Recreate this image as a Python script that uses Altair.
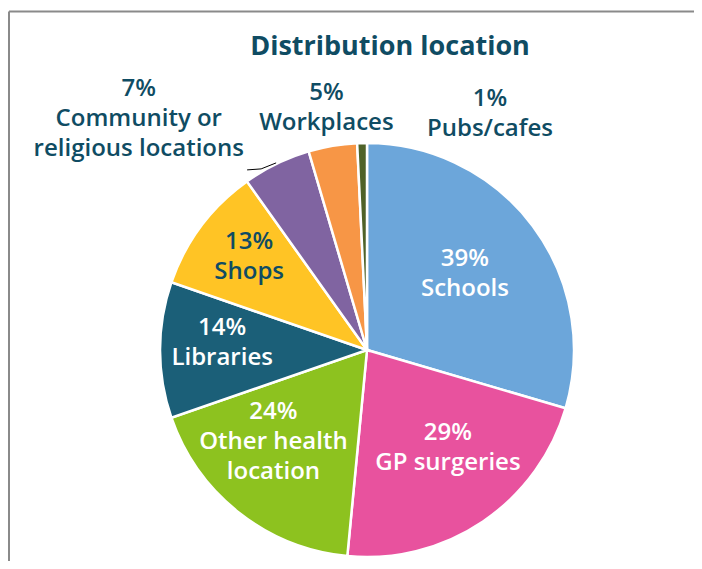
import math
import altair as alt
import pandas as pd

# ---- data ----
categories = ["Schools", "GP surgeries", "Other health location", "Libraries",
              "Shops", "Community or religious locations", "Workplaces", "Pubs/cafes"]
values = [39, 29, 24, 14, 13, 7, 5, 1]
percent_labels = ["39%", "29%", "24%", "14%", "13%", "7%", "5%", "1%"]
name_labels = ["Schools", "GP surgeries", "Other health\nlocation", "Libraries",
               "Shops", "Community or\nreligious locations", "Workplaces", "Pubs/cafes"]
colors = ["#6CA6DA", "#E8529E", "#8DC21F", "#1B5F78",
          "#FFC425", "#8064A1", "#F79646", "#4F6228"]
title_text = "Distribution location"

# ---- layout ----
W, H = 686, 553
CX, CY, R = 359, 342, 207
TEAL = "#0f4c63"
FONT = "Open Sans"
LH = 30
# label polar placement: (radius, angle nudge in degrees), colour
label_layout = {
    "Schools": (124, -1.0, "white"),
    "GP surgeries": (127, -5.5, "white"),
    "Other health location": (131, 7.4, "white"),
    "Libraries": (145, 2.8, "white"),
    "Shops": (150, 1.4, TEAL),
    "Community or religious locations": (325, -18.7, TEAL),
    "Workplaces": (245, 0.0, TEAL),
    "Pubs/cafes": (266, 28.9, TEAL),
}

total = sum(values)
rows = []
cum = 0
for i, (c, v) in enumerate(zip(categories, values)):
    mid = (cum + v / 2) / total * 360
    cum += v
    r, nudge, col = label_layout[c]
    a = math.radians(mid + nudge)
    text = percent_labels[i] + "\n" + name_labels[i]
    nlines = text.count("\n") + 1
    rows.append({
        "category": c, "value": v, "idx": i,
        "text": text,
        "lx": CX + r * math.sin(a),
        "ly": CY - r * math.cos(a) - (nlines - 1) * LH / 2,
        "tcolor": col, "mid": mid,
    })
df = pd.DataFrame(rows)

# leader line for the community slice
comm = df[df.category == "Community or religious locations"].iloc[0]
am = math.radians(comm["mid"])
ex, ey = CX + (R + 1) * math.sin(am), CY - (R + 1) * math.cos(am)
leader = pd.DataFrame({"x": [ex, ex - 15, ex - 29], "y": [ey, ey + 6, ey + 7], "o": [0, 1, 2]})

pie = alt.Chart(df).mark_arc(radius=R, stroke="white", strokeWidth=2.5).encode(
    theta=alt.Theta("value:Q", stack=True),
    color=alt.Color("category:N", scale=alt.Scale(domain=categories, range=colors), legend=None),
    order=alt.Order("idx:Q"),
    x=alt.value(CX), y=alt.value(CY),
)

labels = alt.Chart(df).mark_text(
    font=FONT, fontSize=24, fontWeight=600, lineBreak="\n", lineHeight=LH,
    align="center", baseline="middle"
).encode(
    x=alt.X("lx:Q", scale=None), y=alt.Y("ly:Q", scale=None),
    text="text:N", color=alt.Color("tcolor:N", scale=None),
)

leader_line = alt.Chart(leader).mark_line(color="black", strokeWidth=1).encode(
    x=alt.X("x:Q", scale=None), y=alt.Y("y:Q", scale=None), order="o:Q"
)

title = alt.Chart(pd.DataFrame({"t": [title_text]})).mark_text(
    font=FONT, fontSize=27, fontWeight="bold", color=TEAL, align="center", baseline="middle"
).encode(text="t:N", x=alt.value(382), y=alt.value(39))

frame_left = alt.Chart(pd.DataFrame({"a": [0]})).mark_rule(color="#8a8a8a", strokeWidth=2).encode(
    x=alt.value(1), y=alt.value(3.5), y2=alt.value(H))
frame_top = alt.Chart(pd.DataFrame({"a": [0]})).mark_rule(color="#8a8a8a", strokeWidth=2).encode(
    x=alt.value(1), x2=alt.value(W), y=alt.value(3.5))

chart = alt.layer(frame_left, frame_top, pie, leader_line, labels, title).properties(
    width=W, height=H, padding=0, autosize=alt.AutoSizeParams(type="none")
).configure_view(stroke=None)

chart.save("out.html", embed_options={"renderer": "svg", "actions": False})
